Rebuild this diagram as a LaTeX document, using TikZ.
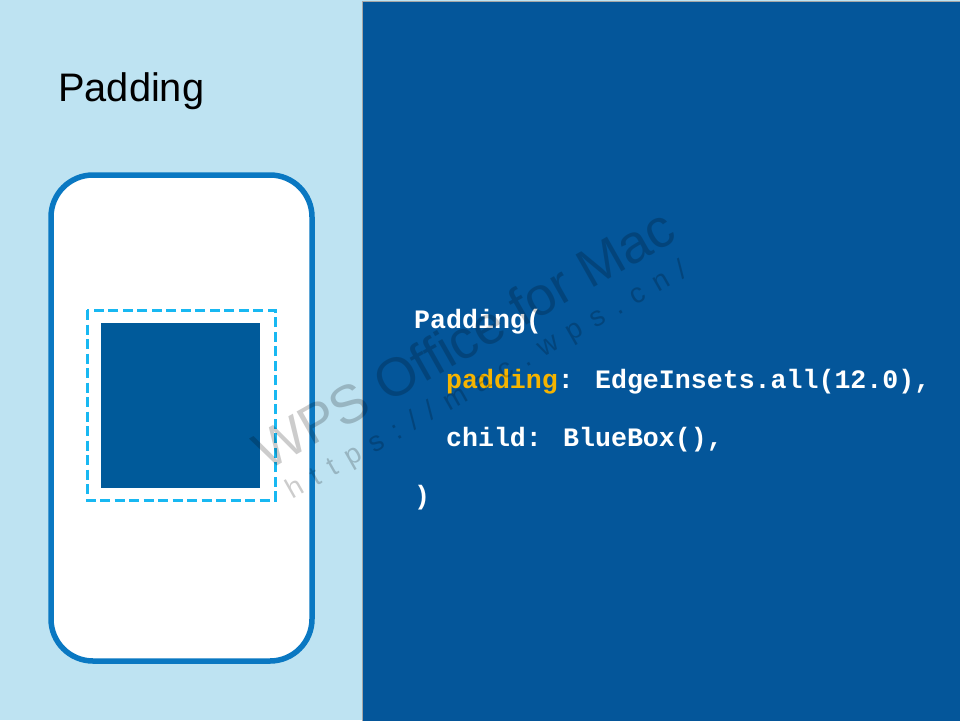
\documentclass[tikz,border=0pt]{standalone}
\usepackage{fontspec}
\setmainfont{Liberation Sans}
\newfontfamily\codefont{Liberation Mono}
\newfontfamily\wmurl{Liberation Sans}[LetterSpace=43]
\definecolor{lightbg}{HTML}{BEE3F2}
\definecolor{panel}{HTML}{04569A}
\definecolor{phoneline}{HTML}{0A78C2}
\definecolor{dashc}{HTML}{18B8F2}
\definecolor{boxc}{HTML}{005A9A}
\definecolor{codeyel}{HTML}{F5B400}
\tikzset{
  codeline/.style={anchor=base west, inner sep=0pt, text=white, font=\codefont\bfseries\fontsize{26.6}{30}\selectfont},
  wmark/.style={anchor=base west, inner sep=0pt, text=black, text opacity=0.2, rotate=29.5}
}
\begin{document}
\begin{tikzpicture}[x=1pt,y=-1pt]
\useasboundingbox (0,0) rectangle (960,720);
\fill[lightbg] (0,0) rectangle (960,720);
\fill[panel, draw=gray!70, line width=1pt] (362.5,1) rectangle (961,721);
\node[anchor=base west, inner sep=0pt, font=\fontsize{39.8}{44}\selectfont] (title) at (58,101) {Padding};
\draw[phoneline, fill=white, line width=5.5pt, rounded corners=42pt] (51,175) rectangle (312,661);
\draw[dashc, line width=3pt, dash pattern=on 10pt off 4.5pt] (87,310) rectangle (275,500);
\node[fill=boxc, inner sep=0pt, minimum width=159pt, minimum height=165pt, anchor=north west] (bluebox) at (101,323) {};
\node[codeline] (l1) at (414,328) {Padding(};
\node[codeline] (l2) at (414,388) {\phantom{xx}\textcolor{codeyel}{padding}: EdgeInsets.all(12.0),};
\node[codeline] (l3) at (414,446) {\phantom{xx}child: BlueBox(),};
\node[codeline] (l4) at (414,504) {)};
\node[wmark, font=\fontsize{54}{60}\selectfont] (wm1) at (267,472) {WPS Office for Mac};
\node[wmark, font=\wmurl\fontsize{28}{32}\selectfont] (wm2) at (292,500) {https://mac.wps.cn/};
\end{tikzpicture}
\end{document}
